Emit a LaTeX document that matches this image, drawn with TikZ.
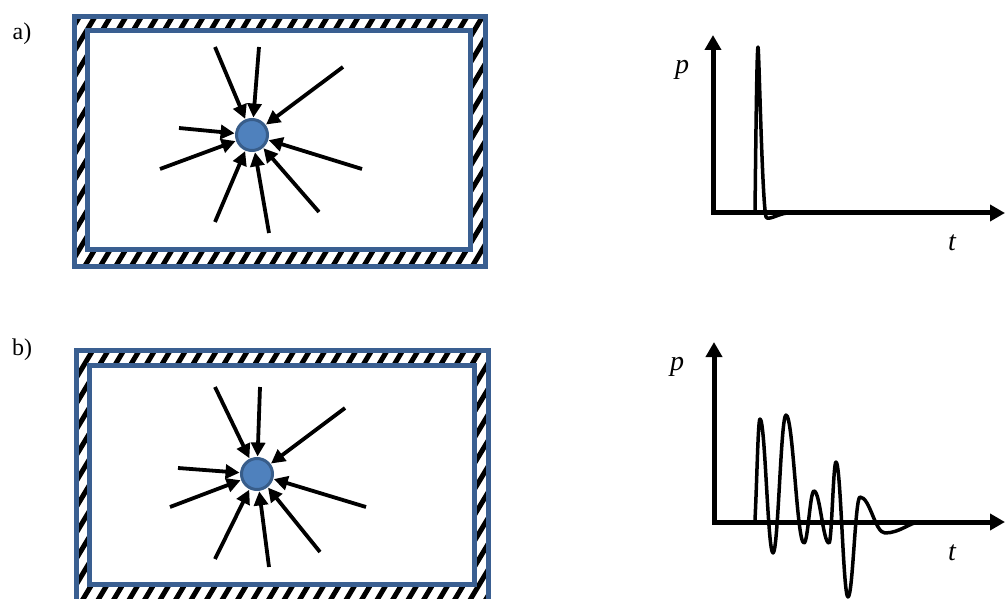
\documentclass[tikz,border=0pt]{standalone}
\usepackage{fontspec}
\setmainfont{Liberation Serif}
\usetikzlibrary{arrows.meta}
\definecolor{frameblue}{RGB}{58,95,145}
\definecolor{ballfill}{RGB}{79,129,189}
\definecolor{ballline}{RGB}{56,93,138}
\tikzset{
  wallline/.style={draw=frameblue, line width=5pt},
  stripe/.style={black, line width=5pt},
  ball/.style={circle, fill=ballfill, draw=ballline, line width=3pt, minimum size=31pt, inner sep=0pt},
  inarrow/.style={line width=3.8pt, -{Triangle[length=14pt,width=14pt]}, shorten >=0.5pt},
  axisline/.style={line width=5pt, line join=miter, {Triangle[length=15pt,width=16pt]}-{Triangle[length=15pt,width=16pt]}},
  signal/.style={line width=3.5pt, line join=round, line cap=round},
  panellabel/.style={font=\fontsize{24}{28}\selectfont, inner sep=0pt},
  axislabel/.style={font=\fontsize{28}{32}\selectfont\itshape, inner sep=0pt}
}
\begin{document}
\begin{tikzpicture}[x=1pt, y=-1pt]
\useasboundingbox (0,0) rectangle (1005,599);
\clip (0,0) rectangle (1005,599);

% ---------------- panel labels
\node[panellabel] (la) at (22,34) {a)};
\node[panellabel] (lb) at (22,350) {b)};

% ---------------- frame a
\begin{scope}[even odd rule]
  \clip (74.5,16.5) rectangle (485.5,266.5) (87.5,30.5) rectangle (470,249.5);
  \foreach \i in {0,...,45} {
    \draw[stripe] (-100+\i*15.5,290) -- (-100+\i*15.5+0.6*290,0);
  }
\end{scope}
\draw[wallline] (74.5,16.5) rectangle (485.5,266.5);
\draw[wallline] (87.5,30.5) rectangle (470,249.5);

% ---------------- frame b
\begin{scope}[even odd rule]
  \clip (76.5,350.5) rectangle (488,601) (89.5,365.5) rectangle (474.5,584.5);
  \foreach \i in {0,...,45} {
    \draw[stripe] (-100+\i*15.5,620) -- (-100+\i*15.5+0.6*290,330);
  }
\end{scope}
\draw[wallline] (76.5,350.5) rectangle (488,601);
\draw[wallline] (89.5,365.5) rectangle (474.5,584.5);

% ---------------- source a
\node[ball] (ca) at (252,135) {};
\coordinate (a1) at (215,47);
\coordinate (a2) at (259,47);
\coordinate (a3) at (343,67);
\coordinate (a4) at (179,128);
\coordinate (a5) at (160,169);
\coordinate (a6) at (362,169);
\coordinate (a7) at (215,222);
\coordinate (a8) at (269,233);
\coordinate (a9) at (319,212);
\draw[inarrow] (a1) -- (ca);
\draw[inarrow] (a2) -- (ca);
\draw[inarrow] (a3) -- (ca);
\draw[inarrow] (a4) -- (ca);
\draw[inarrow] (a5) -- (ca);
\draw[inarrow] (a6) -- (ca);
\draw[inarrow] (a7) -- (ca);
\draw[inarrow] (a8) -- (ca);
\draw[inarrow] (a9) -- (ca);

% ---------------- source b
\node[ball] (cb) at (257,474) {};
\coordinate (b1) at (215,387);
\coordinate (b2) at (260,387);
\coordinate (b3) at (345,408);
\coordinate (b4) at (178,468);
\coordinate (b5) at (170,507);
\coordinate (b6) at (366,507);
\coordinate (b7) at (215,559);
\coordinate (b8) at (269,567);
\coordinate (b9) at (320,552);
\draw[inarrow] (b1) -- (cb);
\draw[inarrow] (b2) -- (cb);
\draw[inarrow] (b3) -- (cb);
\draw[inarrow] (b4) -- (cb);
\draw[inarrow] (b5) -- (cb);
\draw[inarrow] (b6) -- (cb);
\draw[inarrow] (b7) -- (cb);
\draw[inarrow] (b8) -- (cb);
\draw[inarrow] (b9) -- (cb);

% ---------------- graph a
\coordinate (oa) at (713,213);
\coordinate (ya) at (713,35);
\coordinate (xa) at (1005,213);
\draw[axisline] (ya) -- (oa) -- (xa);
\node[axislabel] (pa) at (682,70) {p};
\node[axislabel] (ta) at (952,243) {t};
\draw[signal] (755,213) .. controls (756,120) and (757,47) .. (758,47)
  .. controls (759,47) and (762,200) .. (766,217)
  .. controls (768,221) and (778,214) .. (787,213);

% ---------------- graph b
\coordinate (ob) at (714,522);
\coordinate (yb) at (714,342);
\coordinate (xb) at (1005,522);
\draw[axisline] (yb) -- (ob) -- (xb);
\node[axislabel] (pb) at (677,367) {p};
\node[axislabel] (tb) at (952,553) {t};
\draw[signal] (755,520) .. controls (757,480) and (758,419) .. (760,419)
  .. controls (765.2,419) and (767.8,553) .. (773,553)
  .. controls (778.2,553) and (780.8,415) .. (786,415)
  .. controls (793.2,415) and (796.8,543) .. (804,543)
  .. controls (808,543) and (810,491) .. (814,491)
  .. controls (820,491) and (823,543) .. (829,543)
  .. controls (831.8,543) and (833.2,462) .. (836,462)
  .. controls (840.8,462) and (843.2,597) .. (848,597)
  .. controls (852.8,597) and (855.2,497) .. (860,497)
  .. controls (870,497) and (875,533) .. (885,533)
  .. controls (900,533) and (910,522) .. (920,522);
\end{tikzpicture}
\end{document}
